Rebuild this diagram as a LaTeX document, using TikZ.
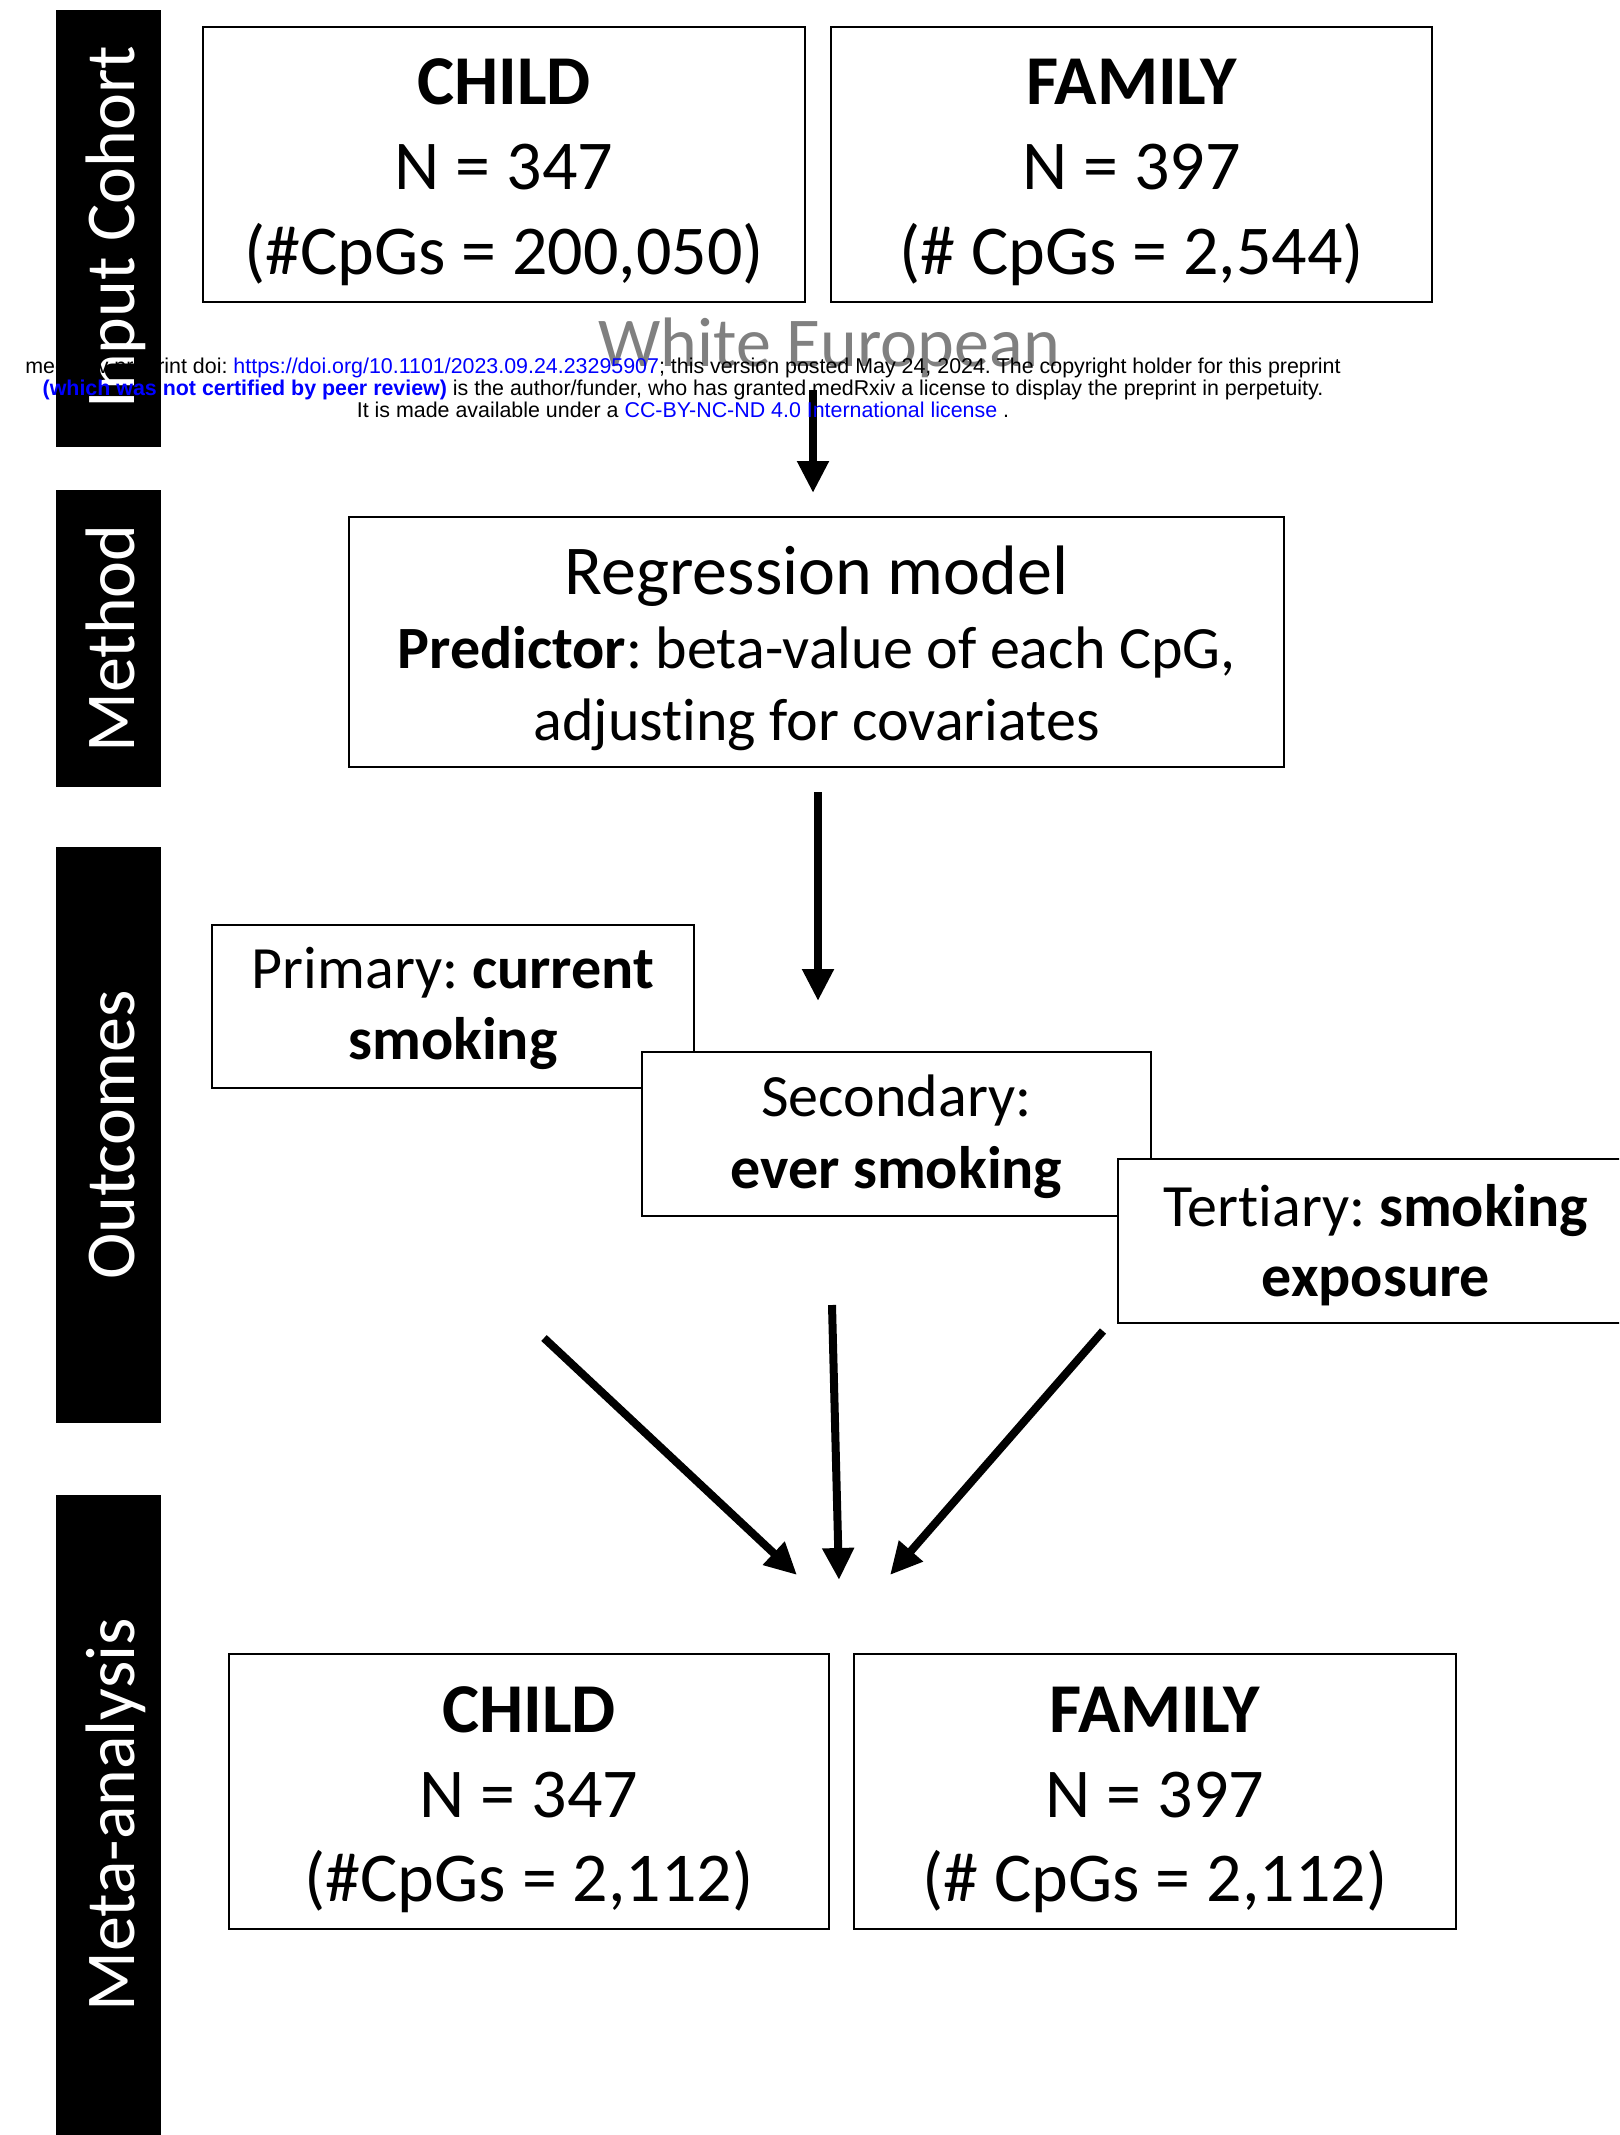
\documentclass[tikz,border=0pt]{standalone}
\usepackage{fontspec}
\setmainfont{Carlito}[Ligatures=NoCommon]
\newfontfamily\hdrfont{Liberation Sans}
\usetikzlibrary{arrows.meta}
\definecolor{linkblue}{RGB}{0,0,255}
\definecolor{wegray}{RGB}{128,128,128}
\frenchspacing
\begin{document}
\begin{tikzpicture}[x=1pt,y=-1pt,
  box/.style={draw=black, line width=2.5pt, fill=white, inner sep=0pt},
  bar/.style={fill=black, draw=none},
  bartext/.style={text=white, rotate=90, anchor=base, inner sep=0pt, font=\fontsize{70}{84}\selectfont},
  big/.style={anchor=base, inner sep=0pt, font=\fontsize{70}{84}\selectfont},
  bigb/.style={anchor=base, inner sep=0pt, font=\fontsize{70}{84}\selectfont\bfseries},
  mid/.style={anchor=base, inner sep=0pt, font=\fontsize{60}{72}\selectfont},
  flow/.style={line width=8pt, -{Triangle[width=30pt,length=32pt]}},
  hdr/.style={anchor=base, inner sep=0pt, font=\hdrfont\fontsize{21.4}{22}\selectfont}]
\useasboundingbox (0,0) rectangle (1619,2135);
\clip (0,0) rectangle (1619,2135);
\fill[white] (0,0) rectangle (1619,2135);

% side bars
\path[bar] (56,10) rectangle (161,447);
\path[bar] (56,490) rectangle (161,787);
\path[bar] (56,847) rectangle (161,1423);
\path[bar] (56,1495) rectangle (161,2140);
\node[bartext] (lblIC) at (134,227) {Input Cohort};
\node[bartext] (lblME) at (134,638.5) {Method};
\node[bartext] (lblOU) at (134,1135) {Outcomes};
\node[bartext] (lblMA) at (134,1815) {Meta-analysis};

% input cohort boxes
\node[box, minimum width=602pt, minimum height=275pt] (childTop) at (504,164.5) {};
\node[bigb] (childTopA) at (504,105) {CHILD};
\node[big] (childTopB) at (504,190) {N = 347};
\node[big] (childTopC) at (504,275) {(\#CpGs = 200,050)};
\node[box, minimum width=601pt, minimum height=275pt] (famTop) at (1131.5,164.5) {};
\node[bigb] (famTopA) at (1131.5,105) {FAMILY};
\node[big] (famTopB) at (1131.5,190) {N = 397};
\node[big] (famTopC) at (1131.5,275) {(\# CpGs = 2,544)};

% regression
\node[box, minimum width=935pt, minimum height=250pt] (reg) at (816.5,642) {};
\node[big] (regA) at (816.5,594) {Regression model};
\node[mid] (regB) at (816.5,668) {\textbf{Predictor}: beta-value of each CpG,};
\node[mid] (regC) at (816.5,740) {adjusting for covariates};

% outcomes
\node[box, minimum width=482pt, minimum height=163pt] (prim) at (453,1006.5) {};
\node[mid] (primA) at (453,988) {Primary: \textbf{current}};
\node[mid] (primB) at (453,1059) {\textbf{smoking}};
\node[box, minimum width=509pt, minimum height=164pt] (sec) at (896.5,1134) {};
\node[mid] (secA) at (896.5,1116) {Secondary:};
\node[mid] (secB) at (896.5,1188) {\textbf{ever smoking}};
\node[box, minimum width=518pt, minimum height=164pt] (ter) at (1377,1241) {};
\node[mid] (terA) at (1376,1226) {Tertiary: \textbf{smoking}};
\node[mid] (terB) at (1376,1296) {\textbf{exposure}};

% meta-analysis boxes
\node[box, minimum width=600pt, minimum height=275pt] (childBot) at (529,1791.5) {};
\node[bigb] (childBotA) at (529,1732) {CHILD};
\node[big] (childBotB) at (529,1817) {N = 347};
\node[big] (childBotC) at (529,1901) {(\#CpGs = 2,112)};
\node[box, minimum width=602pt, minimum height=275pt] (famBot) at (1155,1791.5) {};
\node[bigb] (famBotA) at (1155,1732) {FAMILY};
\node[big] (famBotB) at (1155,1817) {N = 397};
\node[big] (famBotC) at (1155,1901) {(\# CpGs = 2,112)};

% arrows
\coordinate (a1s) at (813,390);
\coordinate (a1e) at (813,493);
\coordinate (a2s) at (818,792);
\coordinate (a2e) at (818,1001);
\coordinate (a3s) at (544,1338);
\coordinate (a3e) at (797,1575);
\coordinate (a4s) at (832,1305);
\coordinate (a4e) at (839,1580);
\coordinate (a5s) at (1103,1331);
\coordinate (a5e) at (890,1575);
\draw[flow] (a1s) -- (a1e);
\draw[flow] (a2s) -- (a2e);
\draw[flow] (a3s) -- (a3e);
\draw[flow] (a4s) -- (a4e);
\draw[flow] (a5s) -- (a5e);

% White European
\node[big, text=wegray] (white) at (829,366) {White European};

% preprint header
\node[hdr] (h1) at (683,373) {medRxiv preprint doi: \textcolor{linkblue}{https://doi.org/10.1101/2023.09.24.23295907}; this version posted May 24, 2024. The copyright holder for this preprint};
\node[hdr] (h2) at (683,395) {\textcolor{linkblue}{\bfseries (which was not certified by peer review)} is the author/funder, who has granted medRxiv a license to display the preprint in perpetuity.};
\node[hdr] (h3) at (683,417) {It is made available under a \textcolor{linkblue}{CC-BY-NC-ND 4.0 International license} .};
\end{tikzpicture}
\end{document}
